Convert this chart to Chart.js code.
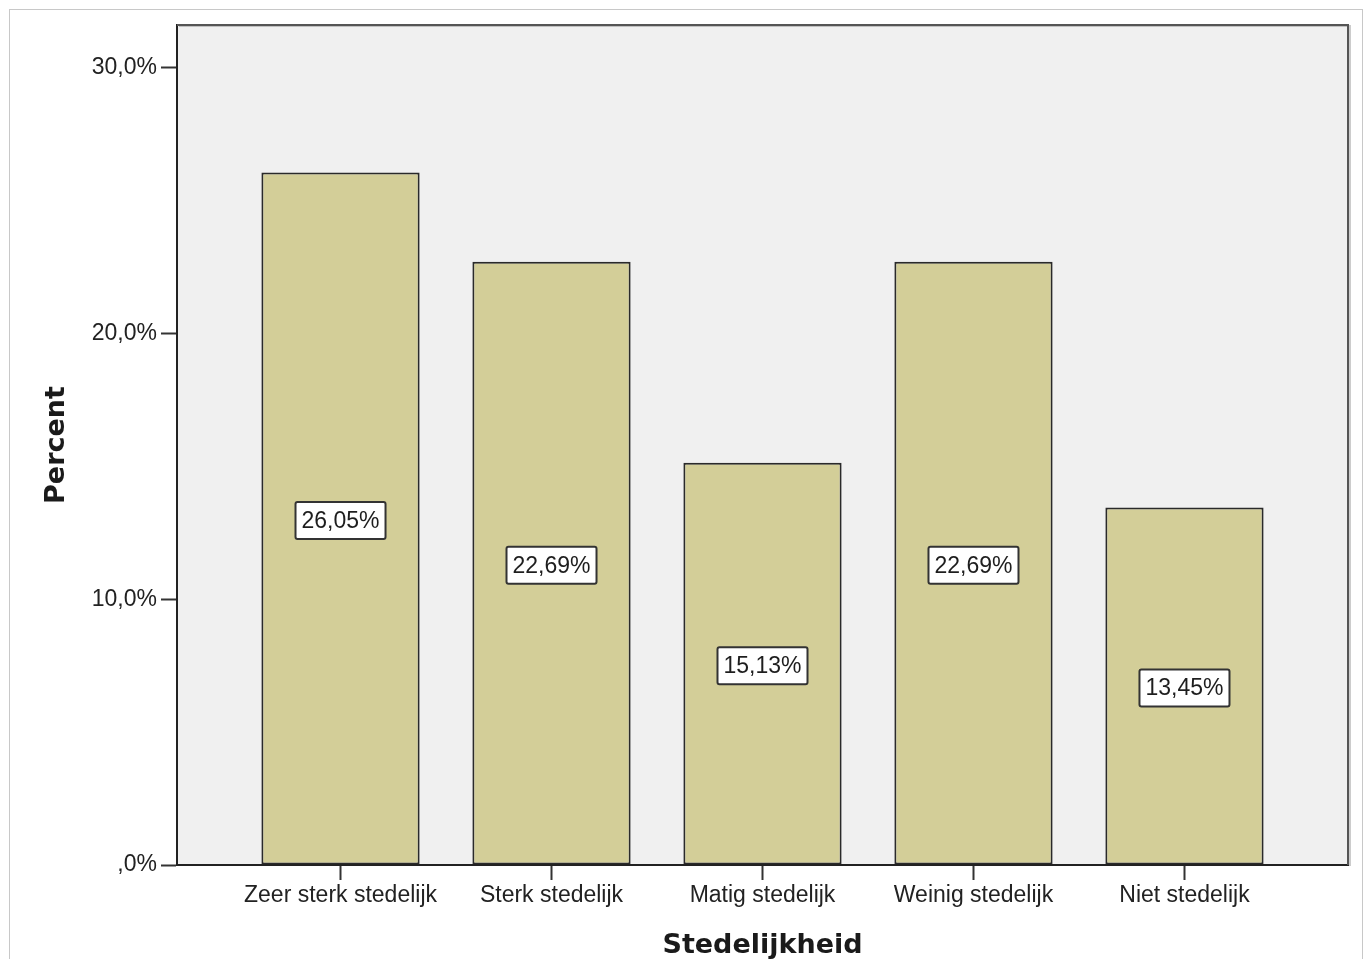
<!DOCTYPE html>
<html>
<head>
<meta charset="utf-8">
<title>Stedelijkheid</title>
<script src="https://cdn.jsdelivr.net/npm/chart.js@4.4.0/dist/chart.umd.min.js"></script>
<style>
  html, body { margin: 0; padding: 0; background: #fff; }
  canvas { display: block; }
</style>
</head>
<body>
<canvas id="grafiekStedelijkheid" width="1365" height="959"></canvas>
<script>
const categorieen = ['Zeer sterk stedelijk', 'Sterk stedelijk', 'Matig stedelijk', 'Weinig stedelijk', 'Niet stedelijk'];
const percentages = [26.05, 22.69, 15.13, 22.69, 13.45];
const yTicks = [0, 10, 20, 30];
const yTickLabels = [',0%', '10,0%', '20,0%', '30,0%'];

const tekstFont = { family: '"Liberation Sans", Arial, sans-serif', size: 23 };
const titelFont = { family: '"DejaVu Sans", Verdana, sans-serif', size: 27, weight: 'bold', lineHeight: 1 };

// grijze plotachtergrond, buitenkader en de boven/rechterrand
const plotKader = {
    id: 'plotKader',
    beforeDraw(chart) {
        const { ctx, chartArea: a, width, height } = chart;
        ctx.save();
        ctx.fillStyle = '#fff';
        ctx.fillRect(0, 0, width, height);
        ctx.strokeStyle = '#c8c8c8';
        ctx.lineWidth = 1;
        ctx.strokeRect(9.5, 9.5, width - 12, height + 20);
        ctx.fillStyle = '#f0f0f0';
        ctx.fillRect(a.left, a.top, a.right - a.left, a.bottom - a.top);
        ctx.restore();
    },
    afterDraw(chart) {
        const { ctx, chartArea: a } = chart;
        ctx.save();
        ctx.strokeStyle = 'rgba(0,0,0,0.2)';
        ctx.lineWidth = 2;
        ctx.beginPath();
        ctx.moveTo(a.left + 2, a.top + 1);
        ctx.lineTo(a.right + 2, a.top + 1);
        ctx.lineTo(a.right + 2, a.bottom + 1);
        ctx.stroke();
        ctx.strokeStyle = '#555';
        ctx.beginPath();
        ctx.moveTo(a.left, a.top);
        ctx.lineTo(a.right, a.top);
        ctx.lineTo(a.right, a.bottom);
        ctx.stroke();
        ctx.restore();
    }
};

// waardelabels in een wit kader midden in elke staaf
const waardeLabels = {
    id: 'waardeLabels',
    afterDatasetsDraw(chart) {
        const ctx = chart.ctx;
        const meta = chart.getDatasetMeta(0);
        ctx.save();
        ctx.font = tekstFont.size + 'px ' + tekstFont.family;
        ctx.textAlign = 'center';
        ctx.textBaseline = 'middle';
        meta.data.forEach((bar, i) => {
            const tekst = percentages[i].toFixed(2).replace('.', ',') + '%';
            const midY = (bar.y + bar.base) / 2 + 2;
            const w = ctx.measureText(tekst).width + 12;
            const h = 37;
            ctx.fillStyle = '#fff';
            ctx.strokeStyle = '#333';
            ctx.lineWidth = 2;
            ctx.beginPath();
            ctx.roundRect(bar.x - w / 2, midY - h / 2, w, h, 2);
            ctx.fill();
            ctx.stroke();
            ctx.fillStyle = '#1e1e1e';
            ctx.fillText(tekst, bar.x, midY + 1);
        });
        ctx.restore();
    }
};

new Chart(document.getElementById('grafiekStedelijkheid'), {
    type: 'bar',
    data: {
        datasets: [{
            label: 'Percent',
            data: percentages.map((p, i) => ({ x: i, y: p })),
            backgroundColor: '#d3ce98',
            borderColor: '#2a2a2a',
            borderWidth: 2,
            borderSkipped: false,
            barPercentage: 0.75,
            categoryPercentage: 1
        }]
    },
    options: {
        responsive: false,
        animation: false,
        layout: { padding: { left: 0, top: 25, right: 17, bottom: 0 } },
        plugins: {
            legend: { display: false },
            tooltip: { enabled: false }
        },
        scales: {
            x: {
                type: 'linear',
                offset: false,
                min: -0.775,
                max: 4.775,
                afterBuildTicks: s => { s.ticks = categorieen.map((c, i) => ({ value: i })); },
                afterFit: s => { s.height = 94; },
                grid: { offset: false, drawOnChartArea: false, drawTicks: true, tickLength: 15, tickColor: '#333', tickWidth: 2 },
                border: { display: true, color: '#222', width: 2 },
                ticks: {
                    callback: v => categorieen[v],
                    color: '#222',
                    font: tekstFont,
                    padding: 2,
                    maxRotation: 0,
                    autoSkip: false
                },
                title: {
                    display: true,
                    text: 'Stedelijkheid',
                    color: '#1a1a1a',
                    font: titelFont,
                    padding: { top: 0, bottom: 0 }
                }
            },
            y: {
                min: 0,
                max: 31.6,
                afterBuildTicks: s => { s.ticks = yTicks.map(v => ({ value: v })); },
                afterFit: s => { s.width = 177; },
                grid: { drawOnChartArea: false, drawTicks: true, tickLength: 16, tickColor: '#333', tickWidth: 2 },
                border: { display: true, color: '#222', width: 2 },
                ticks: {
                    callback: (v, i) => yTickLabels[i],
                    color: '#222',
                    font: tekstFont,
                    padding: 4
                },
                title: {
                    display: true,
                    text: 'Percent',
                    color: '#1a1a1a',
                    font: titelFont,
                    padding: { top: 43, bottom: 0 }
                }
            }
        }
    },
    plugins: [plotKader, waardeLabels]
});
</script>
</body>
</html>
